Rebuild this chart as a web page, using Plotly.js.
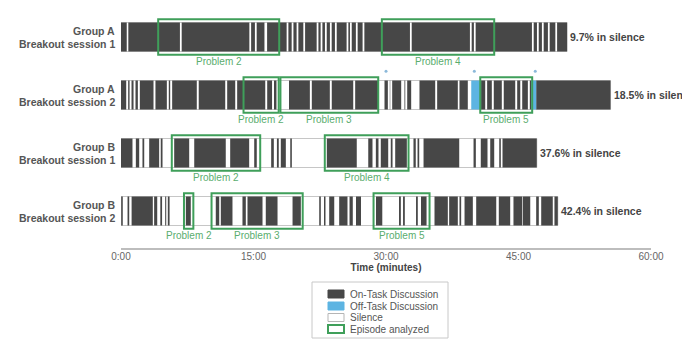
<!DOCTYPE html>
<html><head><meta charset="utf-8">
<script src="https://cdn.plot.ly/plotly-3.0.1.min.js"></script>
<style>html,body{margin:0;padding:0;background:#fff;overflow:hidden}</style>
</head><body><div id="chart" style="width:682px;height:351px"></div>
<script>
// ---------- data (minutes) ----------
const rowGroup = ['Group A', 'Group A', 'Group B', 'Group B'];
const rowSession = ['Breakout session 1', 'Breakout session 2', 'Breakout session 1', 'Breakout session 2'];
const rowEnd = [50.5, 55.42, 47.07, 49.45];
const silenceText = ['9.7% in silence', '18.5% in silence', '37.6% in silence', '42.4% in silence'];

const onTaskA1 = [[0,0.65],[0.83,6.67],[6.87,14.53],[14.73,15.16],[15.36,16.24],[16.54,18.75],[18.95,19.32],[19.52,19.88],[20.08,20.64],[20.84,22.15],[22.35,22.6],[22.8,23.09],[23.29,23.65],[23.85,24.22],[24.42,25.54],[25.74,25.92],[26.12,26.59],[26.79,27.35],[27.55,32.71],[32.91,39.5],[39.7,39.95],[40.15,46.52],[46.72,47.09],[47.29,47.65],[47.85,48.33],[48.53,49.17],[49.37,50.5]];
const onTaskA2 = [[0,0.59],[0.81,0.97],[1.19,1.42],[1.64,1.91],[2.13,3.68],[3.9,5.19],[5.41,5.57],[5.79,8.58],[8.8,11.8],[12.02,12.93],[13.15,16.33],[16.55,17.1],[17.32,17.6],[19.02,21.38],[21.6,23.64],[23.86,26.29],[26.51,29.21],[29.83,30.21],[30.43,30.48],[30.7,31.72],[32.09,32.18],[32.4,32.85],[33.79,35.57],[35.79,38.13],[38.32,39.26],[40.76,41.23],[41.45,41.98],[42.2,43.11],[43.33,44.63],[44.85,45.2],[45.42,46.06],[46.28,46.42],[47.0,55.42]];
const onTaskB1 = [[0,1.3],[1.68,2.06],[2.43,2.63],[3.19,4.32],[4.5,4.7],[6.02,7.72],[8.29,11.86],[12.36,14.51],[15.08,15.37],[17.0,17.3],[17.65,17.86],[18.09,18.66],[19.16,19.34],[23.3,26.69],[27.99,28.47],[28.85,29.15],[29.41,30.25],[30.54,30.74],[31.04,32.36],[33.11,33.37],[33.57,33.76],[34.25,38.29],[39.91,40.17],[40.73,41.49],[41.8,42.25],[42.82,43.0],[43.19,47.07]];
const onTaskB2 = [[0.02,0.2],[0.74,0.93],[1.2,3.6],[3.75,4.1],[4.45,4.65],[5.0,5.12],[5.3,5.5],[7.34,7.9],[10.73,11.12],[11.3,12.62],[13.75,14.13],[14.32,16.02],[16.39,17.72],[19.42,20.36],[22.44,22.62],[22.98,23.15],[23.57,24.14],[24.7,25.64],[25.87,26.24],[26.6,27.17],[28.87,29.58],[31.47,31.68],[31.93,32.13],[33.4,33.6],[33.96,34.59],[35.49,37.0],[37.15,38.13],[38.32,38.51],[38.89,39.83],[40.21,42.48],[42.77,44.06],[44.43,45.42],[45.49,46.33],[47.0,47.3],[47.57,48.88],[49.07,49.45]];
const offTaskA2 = [[39.65,40.76],[46.42,47.0]];
const markTimesA2 = [30.0, 40.0, 46.9];

const episodeRow = [0, 0, 1, 1, 1, 2, 2, 3, 3, 3];
const episodeStart = [4.21, 29.53, 13.87, 18.05, 40.67, 5.75, 23.07, 7.13, 10.25, 28.59];
const episodeEnd = [17.91, 42.25, 17.85, 29.12, 46.55, 15.76, 32.55, 8.19, 20.57, 34.93];
const episodeLabel = ['Problem 2', 'Problem 4', 'Problem 2', 'Problem 3', 'Problem 5', 'Problem 2', 'Problem 4', 'Problem 2', 'Problem 3', 'Problem 5'];

const tickVals = [0, 15, 30, 45, 60];
const tickText = ['0:00', '15:00', '30:00', '45:00', '60:00'];

const legendNames = ['On-Task Discussion', 'Off-Task Discussion', 'Silence', 'Episode analyzed'];

// ---------- styles ----------
const FONT = 'Liberation Sans, Arial, Helvetica, sans-serif';
const DARK = '#474747', BLUE = '#5db4e2', GREEN = '#3f9f5a', GREEN_TXT = '#5aad6e', EDGE = '#c6c6c6';

function segs(rowsList) {
  const y = [], base = [], x = [];
  rowsList.forEach(([row, list]) => list.forEach(([s, e]) => { y.push(row); base.push(s); x.push(e - s); }));
  return {y, base, x};
}
const on = segs([[0, onTaskA1], [1, onTaskA2], [2, onTaskB1], [3, onTaskB2]]);
const off = segs([[1, offTaskA2]]);

const traces = [
  {type:'bar', orientation:'h', y:[0,1,2,3], base:[0,0,0,0], x:rowEnd, width:0.5,
   marker:{color:'#ffffff', line:{color:EDGE, width:1}}, hoverinfo:'skip', showlegend:false},
  {type:'bar', orientation:'h', y:on.y, base:on.base, x:on.x, width:0.5,
   marker:{color:DARK, line:{width:0}}, hoverinfo:'skip', showlegend:false},
  {type:'bar', orientation:'h', y:off.y, base:off.base, x:off.x, width:0.5,
   marker:{color:BLUE, line:{width:0}}, hoverinfo:'skip', showlegend:false},
  {type:'bar', orientation:'h', y:episodeRow, base:episodeStart,
   x:episodeEnd.map((e, i) => e - episodeStart[i]), width:0.61,
   marker:{color:'rgba(0,0,0,0)', line:{color:GREEN, width:2}}, hoverinfo:'skip', showlegend:false},
  {type:'scatter', mode:'markers', x:markTimesA2, y:markTimesA2.map(() => 1 - 0.41),
   marker:{size:3, color:'#8cb9da'}, hoverinfo:'skip', showlegend:false}
];

const annotations = [];
rowGroup.forEach((g, i) => {
  annotations.push({x:0, y:i, xref:'x', yref:'y', text:'<b>' + g + '</b>', showarrow:false,
    xanchor:'right', yanchor:'middle', xshift:-4, yshift:6, font:{family:FONT, size:10.5, color:'#555'}});
  annotations.push({x:0, y:i, xref:'x', yref:'y', text:'<b>' + rowSession[i] + '</b>', showarrow:false,
    xanchor:'right', yanchor:'middle', xshift:-4, yshift:-7, font:{family:FONT, size:10.5, color:'#555'}});
  annotations.push({x:rowEnd[i], y:i, xref:'x', yref:'y', text:'<b>' + silenceText[i] + '</b>', showarrow:false,
    xanchor:'left', yanchor:'middle', xshift:1, font:{family:FONT, size:10.5, color:'#444'}});
});
episodeLabel.forEach((t, i) => {
  annotations.push({x:(episodeStart[i] + episodeEnd[i]) / 2, y:episodeRow[i] + 0.43, xref:'x', yref:'y',
    text:t, showarrow:false, xanchor:'center', yanchor:'middle', font:{family:FONT, size:10, color:GREEN_TXT}});
});

// custom compact legend (pixel helpers)
const ML = 121, PW = 530, PH = 248;
const px = v => (v - ML) / PW;
const py = v => (PH - v) / PH;
const shapes = [
  {type:'rect', xref:'paper', yref:'paper', x0:px(312), x1:px(448), y0:py(282), y1:py(338),
   line:{color:'#c8c8c8', width:1}, fillcolor:'#fff'}
];
const legendY = [294, 306, 317.5, 329];
const swFill = [DARK, BLUE, '#ffffff', '#ffffff'];
const swLine = [DARK, BLUE, '#b5b5b5', GREEN];
const swLW = [1, 1, 1, 2];
legendNames.forEach((n, i) => {
  shapes.push({type:'rect', xref:'paper', yref:'paper', x0:px(328), x1:px(344), y0:py(legendY[i] + 4), y1:py(legendY[i] - 4),
    fillcolor:swFill[i], line:{color:swLine[i], width:swLW[i]}});
  annotations.push({xref:'paper', yref:'paper', x:px(348), y:py(legendY[i]), text:n, showarrow:false,
    xanchor:'left', yanchor:'middle', font:{family:FONT, size:10, color:'#555'}});
});

const layout = {
  width:682, height:351,
  margin:{l:ML, r:682 - ML - PW, t:0, b:351 - PH},
  paper_bgcolor:'#fff', plot_bgcolor:'#fff',
  barmode:'overlay', showlegend:false,
  font:{family:FONT, color:'#666'},
  xaxis:{range:[0, 60], tickvals:tickVals, ticktext:tickText, ticks:'', ticklabelstandoff:-2, showgrid:false, zeroline:false,
    showline:true, linecolor:'#bdbdbd', linewidth:1.5, tickfont:{family:FONT, size:10, color:'#666'},
    title:{text:'<b>Time (minutes)</b>', font:{family:FONT, size:10, color:'#444'}, standoff:2}, fixedrange:true},
  yaxis:{range:[3.638, -0.638], visible:false, showgrid:false, zeroline:false, fixedrange:true},
  annotations, shapes
};

Plotly.newPlot('chart', traces, layout, {displayModeBar:false, staticPlot:true});
</script></body></html>
